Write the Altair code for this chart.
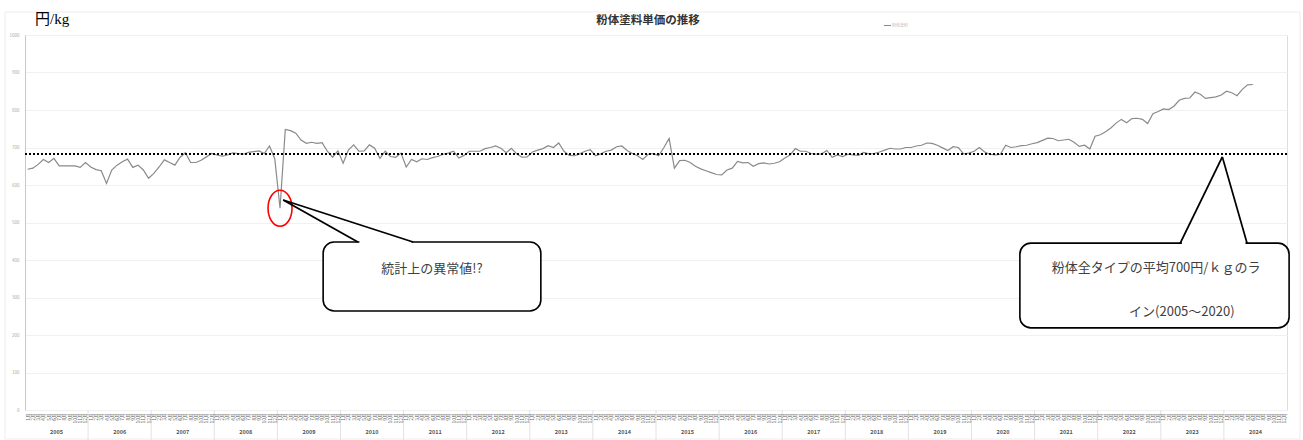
import altair as alt
import pandas as pd

# ---------------- data ----------------
years = list(range(2005, 2025))
months = ["1月", "2月", "3月", "4月", "5月", "6月", "7月", "8月", "9月", "10月", "11月", "12月"]

# monthly unit price (円/kg), Jan 2005 .. Jun 2024
monthly_price = [
    642, 645, 655, 668, 660, 671, 651, 651, 651, 651, 647, 660,   # 2005
    648, 641, 638, 604, 640, 653, 662, 669, 647, 653, 640, 618,   # 2006
    631, 648, 667, 660, 653, 674, 686, 660, 660, 666, 675, 684,   # 2007
    680, 677, 680, 686, 684, 682, 687, 689, 691, 684, 704, 670,   # 2008
    538, 748, 745, 738, 720, 711, 714, 711, 713, 690, 674, 691,   # 2009
    658, 693, 707, 690, 691, 707, 698, 671, 690, 676, 674, 685,   # 2010
    648, 668, 662, 670, 668, 673, 676, 682, 685, 690, 672, 679,   # 2011
    690, 690, 690, 697, 700, 704, 698, 686, 698, 683, 674, 675,   # 2012
    688, 693, 697, 705, 700, 712, 690, 679, 678, 683, 690, 694,   # 2013
    678, 683, 690, 693, 702, 704, 692, 684, 678, 668, 682, 684,   # 2014
    678, 700, 724, 645, 665, 666, 660, 650, 643, 638, 633, 628,   # 2015
    627, 640, 645, 663, 659, 660, 650, 657, 659, 656, 658, 662,   # 2016
    672, 680, 697, 690, 690, 684, 682, 683, 692, 674, 680, 676,   # 2017
    682, 680, 679, 687, 683, 684, 688, 693, 698, 696, 696, 700,   # 2018
    700, 704, 706, 712, 711, 706, 699, 692, 702, 700, 683, 685,   # 2019
    690, 700, 688, 682, 680, 682, 706, 700, 702, 705, 706, 710,   # 2020
    713, 719, 725, 724, 718, 720, 722, 714, 703, 706, 696, 730,   # 2021
    734, 742, 752, 765, 775, 766, 777, 778, 775, 764, 790, 796,   # 2022
    803, 801, 810, 826, 831, 832, 848, 842, 831, 833, 835, 840,   # 2023
    850, 846, 838, 855, 867, 868,                                 # 2024
]
y_ticks = list(range(0, 1001, 100))
average_line = 683
outlier_index = 48

title_text = "粉体塗料単価の推移"
unit_text = "円/kg"
legend_text = "粉体塗料"
callout1_text = "統計上の異常値!?"
callout2_lines = ["粉体全タイプの平均700円/ｋｇのラ", "イン(2005～2020)"]

# callout geometry in data units (month position, price)
box1 = dict(x=56.7, x2=98.1, y=448, y2=264)
ptr1 = dict(bx1=63.3, bx2=73.8, by=448, tx=49.1, ty=560)
box2 = dict(x=189.2, x2=240.4, y=445, y2=219)
ptr2 = dict(bx1=219.7, bx2=232.4, by=445, tx=227.7, ty=675)
txt1 = dict(x=77.4, y=376)
txt2 = [dict(x=215.1, y=379), dict(x=220.0, y=261)]

# ---------------- layout ----------------
W, H = 1262, 375
n_months = len(years) * 12
xs = alt.Scale(domain=[0, n_months], nice=False, zero=False)
ys = alt.Scale(domain=[0, 1000], nice=False)
FONT = "Noto Sans CJK JP"

y_axis = alt.Axis(values=y_ticks, format="d", labelFontSize=4.5, labelColor="#a8a8a8", grid=True,
                  gridColor="#f1f1f1", domainColor="#c8c8c8", ticks=False,
                  labelPadding=6, title=None)

df = pd.DataFrame({"pos": [i + 0.5 for i in range(len(monthly_price))], "price": monthly_price})
df_m = pd.DataFrame({"pos": [i + 0.5 for i in range(n_months)],
                     "label": [months[i % 12] for i in range(n_months)]})
df_y = pd.DataFrame({"pos": [12 * k + 6 for k in range(len(years))], "label": [str(y) for y in years]})
df_sep = pd.DataFrame({"pos": [12 * k for k in range(1, len(years))]})

X = lambda f: alt.X(f, type="quantitative", scale=xs, axis=None, title=None)
Y = lambda f: alt.Y(f, type="quantitative", scale=ys, axis=y_axis, title=None)

line = alt.Chart(df).mark_line(color="#8a8a8a", strokeWidth=1.2).encode(
    x=X("pos"), y=Y("price"))

avg = alt.Chart(pd.DataFrame({"v": [average_line]})).mark_rule(
    color="black", strokeWidth=2, strokeDash=[2, 2]).encode(y=Y("v"))

month_lbl = alt.Chart(df_m).mark_text(angle=270, align="right", baseline="middle",
                                      fontSize=5, color="#666", font=FONT).encode(
    x=X("pos"), y=alt.value(H + 3), text="label:N")

year_lbl = alt.Chart(df_y).mark_text(fontSize=5.5, fontWeight="bold", color="#555", font=FONT).encode(
    x=X("pos"), y=alt.value(H + 22), text="label:N")

year_sep = alt.Chart(df_sep).mark_rule(color="#e2e2e2", strokeWidth=1).encode(
    x=X("pos"), y=alt.value(H), y2=alt.value(H + 30))

ellipse_path = ("M0,-1.5 C0.5523,-1.5 1,-0.8284 1,0 C1,0.8284 0.5523,1.5 0,1.5 "
                "C-0.5523,1.5 -1,0.8284 -1,0 C-1,-0.8284 -0.5523,-1.5 0,-1.5 Z")
ellipse = alt.Chart(pd.DataFrame({"pos": [outlier_index + 0.5],
                                  "price": [monthly_price[outlier_index]]})).mark_point(
    shape=ellipse_path, size=576, filled=False, color="#ff0000", strokeWidth=1.6, opacity=1).encode(
    x=X("pos"), y=Y("price"))

boxes = alt.Chart(pd.DataFrame([box1, box2])).mark_rect(
    fill="white", stroke="black", strokeWidth=1.6, cornerRadius=11).encode(
    x=X("x"), x2="x2", y=Y("y"), y2="y2")

ptr_rows = []
for p in (ptr1, ptr2):
    ptr_rows.append(dict(x=p["bx1"], y=p["by"], x2=p["tx"], y2=p["ty"]))
    ptr_rows.append(dict(x=p["bx2"], y=p["by"], x2=p["tx"], y2=p["ty"]))
cover_rows = [dict(x=p["bx1"] + 0.3, x2=p["bx2"] - 0.3, y=p["by"]) for p in (ptr1, ptr2)]

cover = alt.Chart(pd.DataFrame(cover_rows)).mark_rule(color="white", strokeWidth=3).encode(
    x=X("x"), x2="x2", y=Y("y"))
pointers = alt.Chart(pd.DataFrame(ptr_rows)).mark_rule(color="black", strokeWidth=1.8).encode(
    x=X("x"), x2="x2", y=Y("y"), y2="y2")

callout_txt = alt.Chart(pd.DataFrame([
    dict(x=txt1["x"], y=txt1["y"], t=callout1_text),
    dict(x=txt2[0]["x"], y=txt2[0]["y"], t=callout2_lines[0]),
    dict(x=txt2[1]["x"], y=txt2[1]["y"], t=callout2_lines[1]),
])).mark_text(fontSize=13, color="#404040", font=FONT, baseline="middle").encode(
    x=X("x"), y=Y("y"), text="t:N")

title = alt.Chart(pd.DataFrame({"t": [title_text]})).mark_text(
    fontSize=11.5, fontWeight="bold", color="#333", font=FONT, baseline="middle").encode(
    x=alt.value(623), y=alt.value(-14), text="t:N")

unit = alt.Chart(pd.DataFrame({"t": [unit_text]})).mark_text(
    fontSize=15, color="black", font="'Liberation Serif', 'Noto Sans CJK JP', serif", align="left",
    baseline="middle").encode(x=alt.value(10), y=alt.value(-16), text="t:N")

legend_line = alt.Chart(pd.DataFrame({"a": [0]})).mark_rule(color="#888", strokeWidth=1).encode(
    x=alt.value(859), x2=alt.value(866), y=alt.value(-9.5))
legend_lbl = alt.Chart(pd.DataFrame({"t": [legend_text]})).mark_text(
    fontSize=4, color="#bbb", font=FONT, align="left", baseline="middle").encode(
    x=alt.value(867), y=alt.value(-9.5), text="t:N")

outer = alt.Chart(pd.DataFrame({"a": [0]})).mark_rect(
    fillOpacity=0, stroke="#ececec", strokeWidth=1).encode(
    x=alt.value(-20), x2=alt.value(W + 13), y=alt.value(-23), y2=alt.value(H + 29))

chart = alt.layer(
    line, outer, year_sep, month_lbl, year_lbl, ellipse, avg,
    boxes, cover, pointers, callout_txt, title, unit, legend_line, legend_lbl,
).properties(
    width=W, height=H,
    autosize=alt.AutoSizeParams(type="none"),
    padding={"left": 25, "top": 35, "right": 16, "bottom": 30},
    background="white",
).configure_view(stroke="#e3e3e3", strokeWidth=1.5).configure(font=FONT)

chart.save("out.html", embed_options={"renderer": "svg", "actions": False})
